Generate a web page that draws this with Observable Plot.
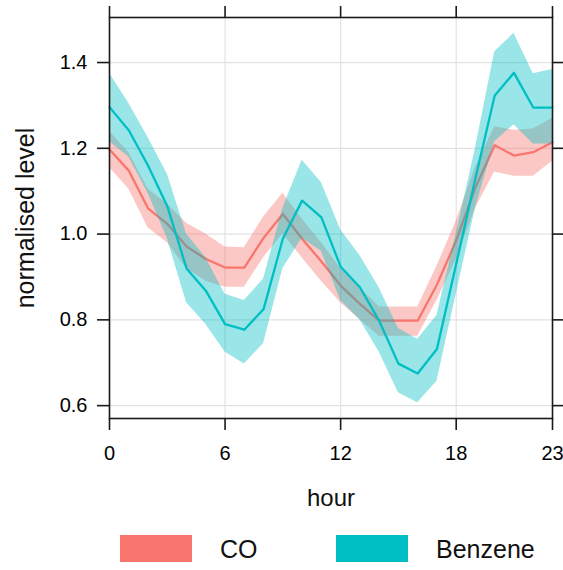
<!DOCTYPE html>
<html>
<head>
<meta charset="utf-8">
<script src="https://cdn.jsdelivr.net/npm/d3@7"></script>
<script src="https://cdn.jsdelivr.net/npm/@observablehq/plot@0.6"></script>
<style>
  html, body { margin: 0; padding: 0; background: #fff; }
  #chart { width: 563px; }
  #legend { position: relative; width: 563px; height: 50px; font-family: "Liberation Sans", Arial, sans-serif; }
  .sw { position: absolute; top: 15px; width: 72px; height: 27px; }
  .lab { position: absolute; top: 14px; font-size: 25px; line-height: 30px; color: #111; }
</style>
</head>
<body>
<div id="chart"></div>
<div id="legend"></div>
<script>
// ---- data ----
const hours = [0,1,2,3,4,5,6,7,8,9,10,11,12,13,14,15,16,17,18,19,20,21,22,23];

const coMean  = [1.197,1.148,1.060,1.024,0.971,0.942,0.922,0.922,0.991,1.047,0.989,0.936,0.880,0.837,0.798,0.798,0.798,0.882,0.985,1.109,1.207,1.183,1.191,1.214];
const coLower = [1.155,1.105,1.015,0.980,0.920,0.890,0.876,0.876,0.945,1.000,0.945,0.890,0.840,0.800,0.762,0.762,0.762,0.845,0.940,1.060,1.145,1.135,1.135,1.170];
const coUpper = [1.240,1.190,1.105,1.070,1.025,1.000,0.970,0.968,1.040,1.095,1.035,0.980,0.920,0.875,0.830,0.830,0.830,0.925,1.030,1.155,1.250,1.242,1.245,1.270];

const bzMean  = [1.296,1.242,1.160,1.065,0.920,0.868,0.790,0.777,0.825,0.989,1.078,1.039,0.924,0.876,0.798,0.698,0.675,0.732,0.930,1.130,1.323,1.376,1.295,1.295];
const bzLower = [1.215,1.180,1.095,0.990,0.840,0.790,0.725,0.697,0.745,0.920,0.990,0.960,0.845,0.800,0.725,0.630,0.607,0.657,0.860,1.060,1.215,1.255,1.210,1.210];
const bzUpper = [1.375,1.305,1.225,1.140,1.000,0.945,0.860,0.845,0.895,1.060,1.172,1.120,1.010,0.950,0.875,0.780,0.755,0.810,1.000,1.200,1.425,1.468,1.374,1.384];

const seriesNames  = ["CO", "Benzene"];
const seriesColors = ["#F8766D", "#00BFC4"];
const xTicks = [0, 6, 12, 18, 23];
const yTicks = [0.6, 0.8, 1.0, 1.2, 1.4];
const xTitle = "hour";
const yTitle = "normalised level";

// ---- build rows ----
const co = hours.map((h, i) => ({hour: h, mean: coMean[i], lower: coLower[i], upper: coUpper[i]}));
const bz = hours.map((h, i) => ({hour: h, mean: bzMean[i], lower: bzLower[i], upper: bzUpper[i]}));

const FONT = '"Liberation Sans", Arial, sans-serif';
const INK = "#1a1a1a";

const chart = Plot.plot({
  width: 563,
  height: 520,
  marginLeft: 109,
  marginRight: 11,
  marginTop: 17,
  marginBottom: 102,
  style: {fontFamily: FONT, fontSize: "20px", background: "#fff", color: "#000"},
  x: {domain: [0, 23], label: null},
  y: {domain: [0.57, 1.505], label: null},
  marks: [
    Plot.gridX(xTicks, {stroke: "#e2e2e2", strokeOpacity: 1, strokeWidth: 1.2}),
    Plot.gridY(yTicks, {stroke: "#e2e2e2", strokeOpacity: 1, strokeWidth: 1.2}),
    Plot.areaY(co, {x: "hour", y1: "lower", y2: "upper", fill: seriesColors[0], fillOpacity: 0.4}),
    Plot.lineY(co, {x: "hour", y: "mean", stroke: seriesColors[0], strokeWidth: 2.3}),
    Plot.areaY(bz, {x: "hour", y1: "lower", y2: "upper", fill: seriesColors[1], fillOpacity: 0.4}),
    Plot.lineY(bz, {x: "hour", y: "mean", stroke: seriesColors[1], strokeWidth: 2.3}),
    Plot.frame({stroke: INK, strokeWidth: 1.6}),
    Plot.axisX(xTicks, {anchor: "bottom", tickSize: 12, tickPadding: 15, strokeWidth: 1.6, stroke: INK, fontSize: 20, label: null, fill: "#000"}),
    Plot.axisX(xTicks, {anchor: "top", tickSize: 12, strokeWidth: 1.6, stroke: INK, tickFormat: () => "", label: null}),
    Plot.axisY(yTicks, {anchor: "left", tickSize: 12, tickPadding: 10, strokeWidth: 1.6, stroke: INK, fontSize: 20, tickFormat: d3.format(".1f"), label: null, fill: "#000"}),
    Plot.axisY(yTicks, {anchor: "right", tickSize: 12, strokeWidth: 1.6, stroke: INK, tickFormat: () => "", label: null}),
    Plot.text([xTitle], {text: d => d, frameAnchor: "bottom", dy: 87, lineAnchor: "bottom", textAnchor: "middle", fontSize: 24, fill: "#111"}),
    Plot.text([yTitle], {text: d => d, frameAnchor: "left", dx: -76, rotate: -90, lineAnchor: "bottom", textAnchor: "middle", fontSize: 25, fill: "#111"})
  ]
});
document.getElementById("chart").appendChild(chart);

// ---- legend below the svg ----
const legend = document.getElementById("legend");
const swLeft = [120, 336];
const labLeft = [220, 436];
seriesNames.forEach((name, i) => {
  const sw = document.createElement("div");
  sw.className = "sw";
  sw.style.left = swLeft[i] + "px";
  sw.style.background = seriesColors[i];
  legend.appendChild(sw);
  const lab = document.createElement("span");
  lab.className = "lab";
  lab.style.left = labLeft[i] + "px";
  lab.textContent = name;
  legend.appendChild(lab);
});
</script>
</body>
</html>
